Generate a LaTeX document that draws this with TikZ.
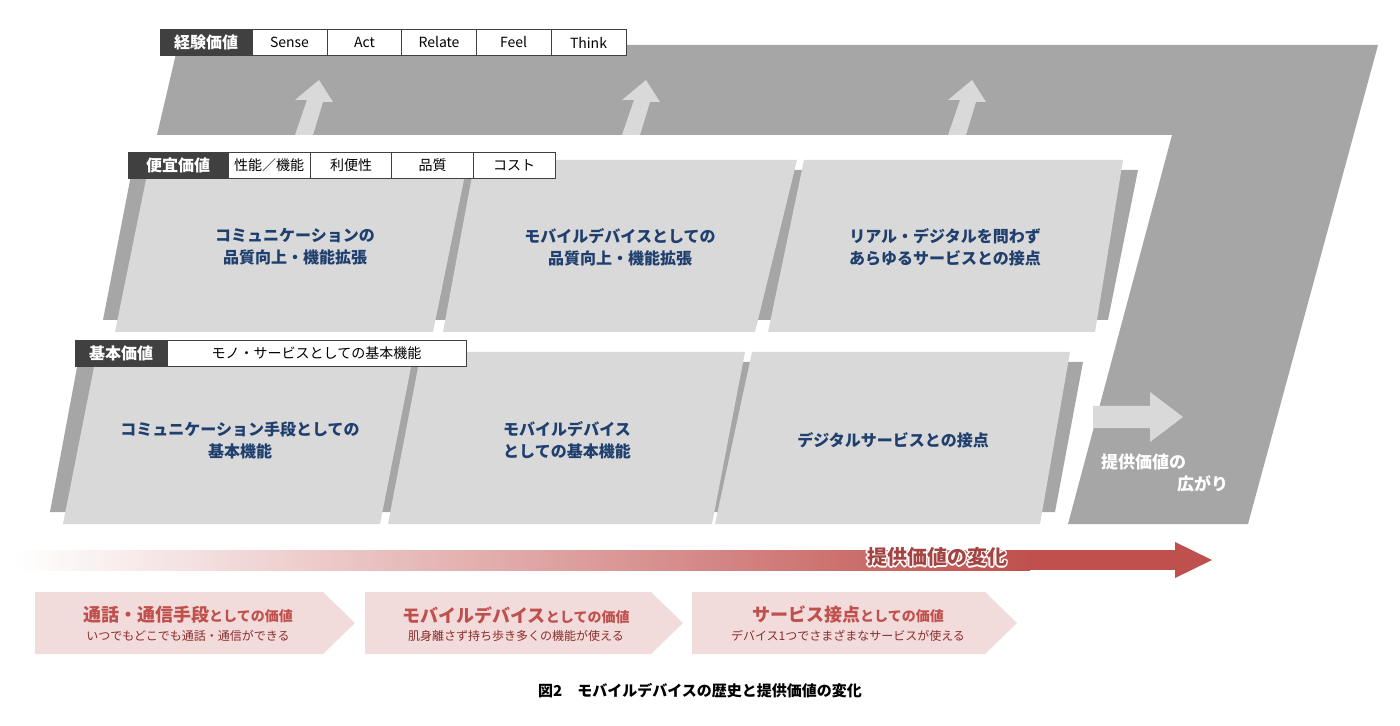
\documentclass[tikz,border=0pt]{standalone}
\usepackage{fontspec}
\setmainfont{Noto Sans CJK JP}
\usetikzlibrary{positioning}
\definecolor{bandgray}{HTML}{A6A6A6}
\definecolor{panelgray}{HTML}{D9D9D9}
\definecolor{labeldark}{HTML}{404040}
\definecolor{navytext}{HTML}{1F3F6E}
\definecolor{valred}{HTML}{C0504D}
\definecolor{darkred}{HTML}{8B2C2C}
\definecolor{chevpink}{HTML}{F2DCDB}
\tikzset{
  tag/.style={fill=labeldark,draw=labeldark,text=white,font=\fontsize{8}{9}\selectfont\bfseries,minimum height=13pt,inner sep=0pt},
  cell/.style={fill=white,draw=labeldark,font=\fontsize{7}{8}\selectfont,minimum height=13pt,inner sep=0pt},
  paneltext/.style={text=navytext,font=\fontsize{8}{11}\selectfont\bfseries,align=center},
  chevtitle/.style={text=valred,font=\fontsize{9}{10}\selectfont\bfseries},
  chevsub/.style={text=darkred,font=\fontsize{6}{7}\selectfont},
  uparrow/.style={fill=panelgray}
}
\newcommand{\upArrow}[1]{\fill[uparrow] (#1-10,135) -- (#1+2,100) -- (#1-10,100) -- (#1+14,80) -- (#1+28,102) -- (#1+18,102) -- (#1+8,135) -- cycle;}
\newcommand{\chevron}[2]{\fill[chevpink] (#1,592) -- (#2,592) -- (#2+32,623) -- (#2,654) -- (#1,654) -- cycle;}
\begin{document}
\begin{tikzpicture}[x=0.5pt,y=-0.5pt]
\useasboundingbox (0,0) rectangle (1400,726);
% experience band
\fill[bandgray] (178,45) -- (1378,45) -- (1248,524) -- (1068,524) -- (1172,135) -- (157,135) -- cycle;
\upArrow{305}
\upArrow{632}
\upArrow{958}
% convenience band
\fill[bandgray] (132,170) -- (1138,170) -- (1108,320) -- (103,320) -- cycle;
\fill[panelgray] (150,160) -- (468,160) -- (433,332) -- (115,332) -- cycle;
\fill[panelgray] (475,160) -- (797,160) -- (755,332) -- (443,332) -- cycle;
\fill[panelgray] (804,160) -- (1123,160) -- (1095,332) -- (768,332) -- cycle;
% basic band
\fill[bandgray] (78,362) -- (1083,362) -- (1055,512) -- (50,512) -- cycle;
\fill[panelgray] (97,352) -- (414,352) -- (380,524) -- (63,524) -- cycle;
\fill[panelgray] (421,352) -- (745,352) -- (712,524) -- (388,524) -- cycle;
\fill[panelgray] (752,352) -- (1070,352) -- (1040,524) -- (715,524) -- cycle;
% panel texts
\node[paneltext] (p1) at (295,247) {コミュニケーションの\\品質向上・機能拡張};
\node[paneltext] (p2) at (620,247) {モバイルデバイスとしての\\品質向上・機能拡張};
\node[paneltext] (p3) at (945,247) {リアル・デジタルを問わず\\あらゆるサービスとの接点};
\node[paneltext] (b1) at (240,440) {コミュニケーション手段としての\\基本機能};
\node[paneltext] (b2) at (567,440) {モバイルデバイス\\としての基本機能};
\node[paneltext] (b3) at (893,440) {デジタルサービスとの接点};
% labels
\node[tag,minimum width=46pt] (exp) at (206,42.5) {経験価値};
\foreach \t/\x in {Sense/289.5,Act/364.5,Relate/439,Feel/513.5,Think/588.5}
  \node[cell,minimum width=37.5pt] (e\t) at (\x,42.5) {\t};
\node[tag,minimum width=50pt] (conv) at (178,165) {便宜価値};
\foreach \t/\x/\n in {性能／機能/269/c1,利便性/351/c2,品質/432.5/c3,コスト/514/c4}
  \node[cell,minimum width=41pt] (\n) at (\x,165) {\t};
\node[tag,minimum width=46pt] (basic) at (121,353) {基本価値};
\node[cell,minimum width=149.5pt] (bcell) at (316.5,353) {モノ・サービスとしての基本機能};
% spread arrow
\fill[panelgray] (1093,406) -- (1150,406) -- (1150,392) -- (1183,417) -- (1150,442) -- (1150,428) -- (1093,428) -- cycle;
\node[text=white,font=\fontsize{8.5}{10}\selectfont\bfseries,anchor=west] (spread1) at (1094,462) {提供価値の};
\node[text=white,font=\fontsize{8.5}{10}\selectfont\bfseries,anchor=west] (spread2) at (1170,484) {広がり};
% change arrow
\shade[left color=white,right color=valred] (15,550) rectangle (1030,570);
\fill[valred] (1028,550) rectangle (1176,570);
\fill[valred] (1175,542) -- (1212,560) -- (1175,578) -- cycle;
\foreach \dx/\dy in {-1.5/0,1.5/0,0/-1.5,0/1.5,-1/-1,1/1,-1/1,1/-1}
  \node[text=white,font=\fontsize{10}{12}\selectfont\bfseries] at (937+\dx,557+\dy) {提供価値の変化};
\node[text=valred!85!black,font=\fontsize{10}{12}\selectfont\bfseries] (change) at (937,557) {提供価値の変化};
% chevrons
\chevron{35}{323}
\chevron{365}{651}
\chevron{692}{985}
\node[chevtitle] (t1) at (188,615) {通話・通信手段{\fontsize{7}{8}\selectfont としての価値}};
\node[chevsub] (s1) at (188,636) {いつでもどこでも通話・通信ができる};
\node[chevtitle] (t2) at (516,615) {モバイルデバイス{\fontsize{7}{8}\selectfont としての価値}};
\node[chevsub] (s2) at (516,636) {肌身離さず持ち歩き多くの機能が使える};
\node[chevtitle] (t3) at (848,615) {サービス接点{\fontsize{7}{8}\selectfont としての価値}};
\node[chevsub] (s3) at (848,636) {デバイス1つでさまざまなサービスが使える};
% caption
\node[font=\fontsize{7.5}{9}\selectfont\bfseries] (caption) at (700,691) {図2\quad モバイルデバイスの歴史と提供価値の変化};
\end{tikzpicture}
\end{document}
